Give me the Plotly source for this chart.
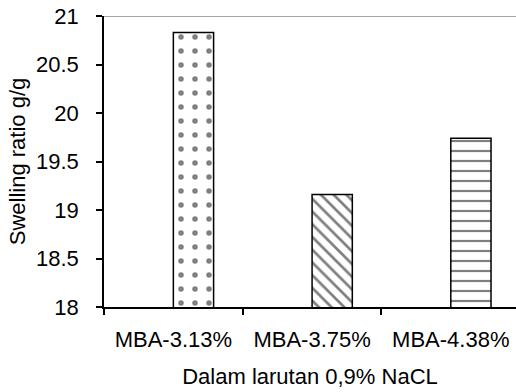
import plotly.graph_objects as go

# Swelling ratio of hydrogels in 0.9% NaCl solution, by MBA content
categories = ["MBA-3.13%", "MBA-3.75%", "MBA-4.38%"]
swelling = [20.83, 19.16, 19.74]
patterns = [".", "\\", "-"]
pattern_sizes = [14, 9, 10]
pattern_solidity = [0.12, 0.3, 0.22]

y_ticks = [18, 18.5, 19, 19.5, 20, 20.5, 21]
y_tick_labels = ["18", "18.5", "19", "19.5", "20", "20.5", "21"]

fig = go.Figure()
fig.add_trace(go.Bar(
    x=categories,
    y=swelling,
    width=0.29,
    offset=0,
    marker=dict(
        color="white",
        line=dict(color="black", width=1.5),
        pattern=dict(shape=patterns, fgcolor="black", bgcolor="white",
                     size=pattern_sizes, solidity=pattern_solidity),
    ),
    showlegend=False,
))

# light rule along the top of the plot area
fig.add_shape(type="line", xref="paper", yref="y", x0=0, x1=1, y0=21, y1=21,
              line=dict(color="#888888", width=1.5))

fig.update_layout(
    width=516, height=392,
    margin=dict(l=104, r=0, t=16, b=85),
    paper_bgcolor="white", plot_bgcolor="white",
    font=dict(family="Liberation Sans, Arial, sans-serif", size=22, color="black"),
    xaxis=dict(
        type="category",
        range=[-0.5, 2.47],
        showline=True, linecolor="black", linewidth=1.5,
        ticks="outside", tickson="boundaries", ticklen=6,
        tickcolor="black", tickwidth=1.5,
        ticklabelstandoff=12,
        showgrid=False,
        title=dict(text="Dalam larutan 0,9% NaCL", standoff=17,
                   font=dict(size=22)),
    ),
    yaxis=dict(
        range=[18, 21],
        tickvals=y_ticks, ticktext=y_tick_labels,
        showline=True, linecolor="black", linewidth=1.5,
        ticks="outside", ticklen=6, tickcolor="black", tickwidth=1.5,
        ticklabelstandoff=13,
        showgrid=False, zeroline=False,
        title=dict(text="Swelling ratio g/g", standoff=4, font=dict(size=22)),
    ),
)

fig.write_html("out.html")
